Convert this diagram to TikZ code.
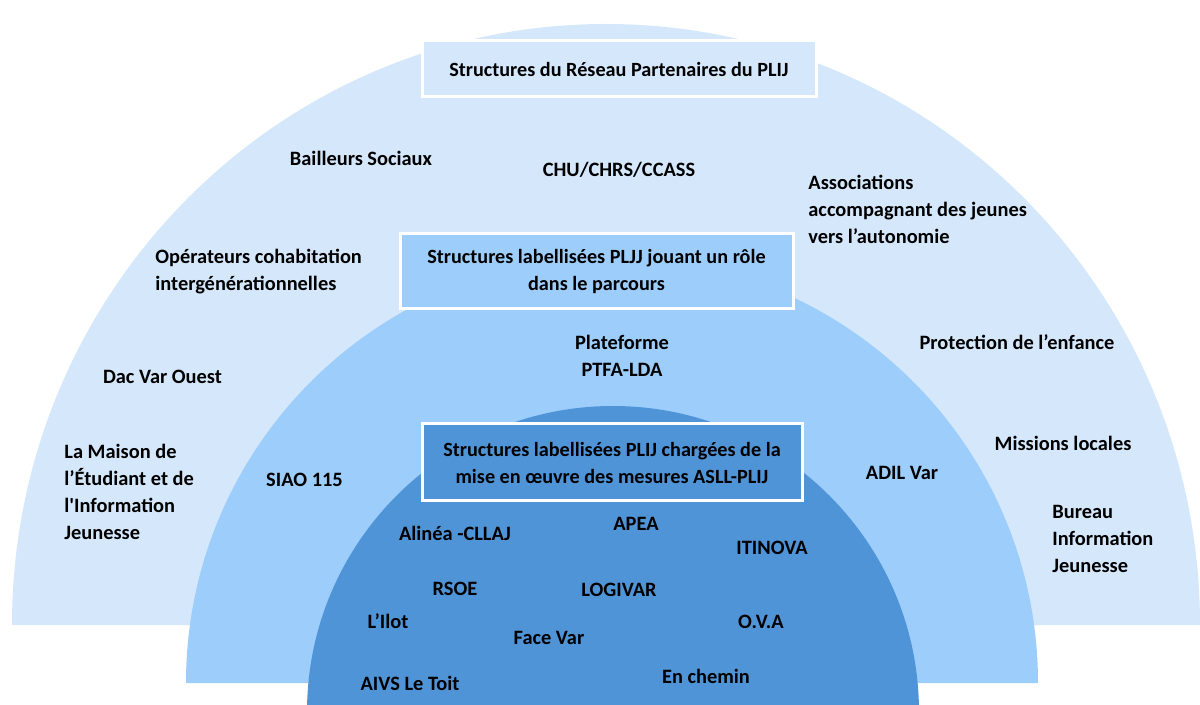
\documentclass[tikz,border=0pt]{standalone}
\usepackage{fontspec}
\setmainfont{Carlito}
\usetikzlibrary{positioning}
\definecolor{outerblue}{RGB}{213,232,251}
\definecolor{midblue}{RGB}{157,205,250}
\definecolor{innerblue}{RGB}{80,148,216}
\tikzstyle{rolebox} = [draw=white, line width=1.5pt, rectangle, align=center, font=\fontsize{10.1}{13.5}\selectfont\bfseries]
\tikzstyle{member} = [inner sep=0, align=center, font=\fontsize{10.2}{13.5}\selectfont\bfseries]
\tikzstyle{memberl} = [member, align=left, anchor=west]

\begin{document}
\begin{tikzpicture}[x=0.5pt, y=-0.5pt, node distance=28pt]
	  \useasboundingbox (0,0) rectangle (1200,705);
	  \clip (0,0) rectangle (1200,705);
	  % the three layers
	  \fill [outerblue] (12,625) arc [start angle=180, end angle=360, x radius=594, y radius=601] -- cycle;
	  \fill [midblue] (186,683) arc [start angle=180, end angle=360, radius=426] -- cycle;
	  \fill [innerblue] (307,712) arc [start angle=180, end angle=360, radius=306] -- cycle;

	  \node [rolebox, fill=outerblue, minimum width=197pt, minimum height=28pt] (reseau) at (619,69) {Structures du Réseau Partenaires du PLIJ};
	  \node [rolebox, fill=midblue, minimum width=196.5pt, minimum height=37.5pt] (parcours) at (596.5,271.5) {Structures labellisées PLJJ jouant un rôle\\dans le parcours};
	  \node [rolebox, fill=innerblue, minimum width=190pt, minimum height=38.5pt] (asll) at (612,462.5) {Structures labellisées PLIJ chargées de la\\mise en œuvre des mesures ASLL-PLIJ};

	  % outer layer
	  \node [member] (bailleurs) at (361,158) {Bailleurs Sociaux};
	  \node [member] (chu) at (619,170) {CHU/CHRS/CCASS};
	  \node [memberl] (assoc) at (808,209) {Associations\\accompagnant des jeunes\\vers l’autonomie};
	  \node [memberl] (cohab) at (155,271.5) {Opérateurs cohabitation\\intergénérationnelles};
	  \node [member] (protection) at (1017,342) {Protection de l’enfance};
	  \node [member] (dac) at (162.5,377) {Dac Var Ouest};
	  \node [memberl] (maison) at (64,491.5) {La Maison de\\l’Étudiant et de\\l\textquotesingle Information\\Jeunesse};
	  \node [member] (missions) at (1063,443) {Missions locales};
	  \node [memberl] (bij) at (1052,539) {Bureau\\Information\\Jeunesse};

	  % middle layer
	  \node [member] (ptfa) at (622,356) {Plateforme\\PTFA-LDA};
	  \node [member] (siao) at (304.5,480) {SIAO 115};
	  \node [member] (adil) at (902,473) {ADIL Var};

	  % inner layer
	  \node [member] (alinea) at (455,533) {Alinéa -CLLAJ};
	  \node [member, below of=alinea] (rsoe) {RSOE};
	  \node [member] (apea) at (636,524) {APEA};
	  \node [member] (itinova) at (772,548) {ITINOVA};
	  \node [member] (logivar) at (619,590) {LOGIVAR};
	  \node [member] (ilot) at (388,621) {L’Ilot};
	  \node [member] (facevar) at (549,638) {Face Var};
	  \node [member] (ova) at (761,622) {O.V.A};
	  \node [member] (aivs) at (410,683) {AIVS Le Toit};
	  \node [member] (enchemin) at (706,676) {En chemin};
	\end{tikzpicture}
\end{document}
